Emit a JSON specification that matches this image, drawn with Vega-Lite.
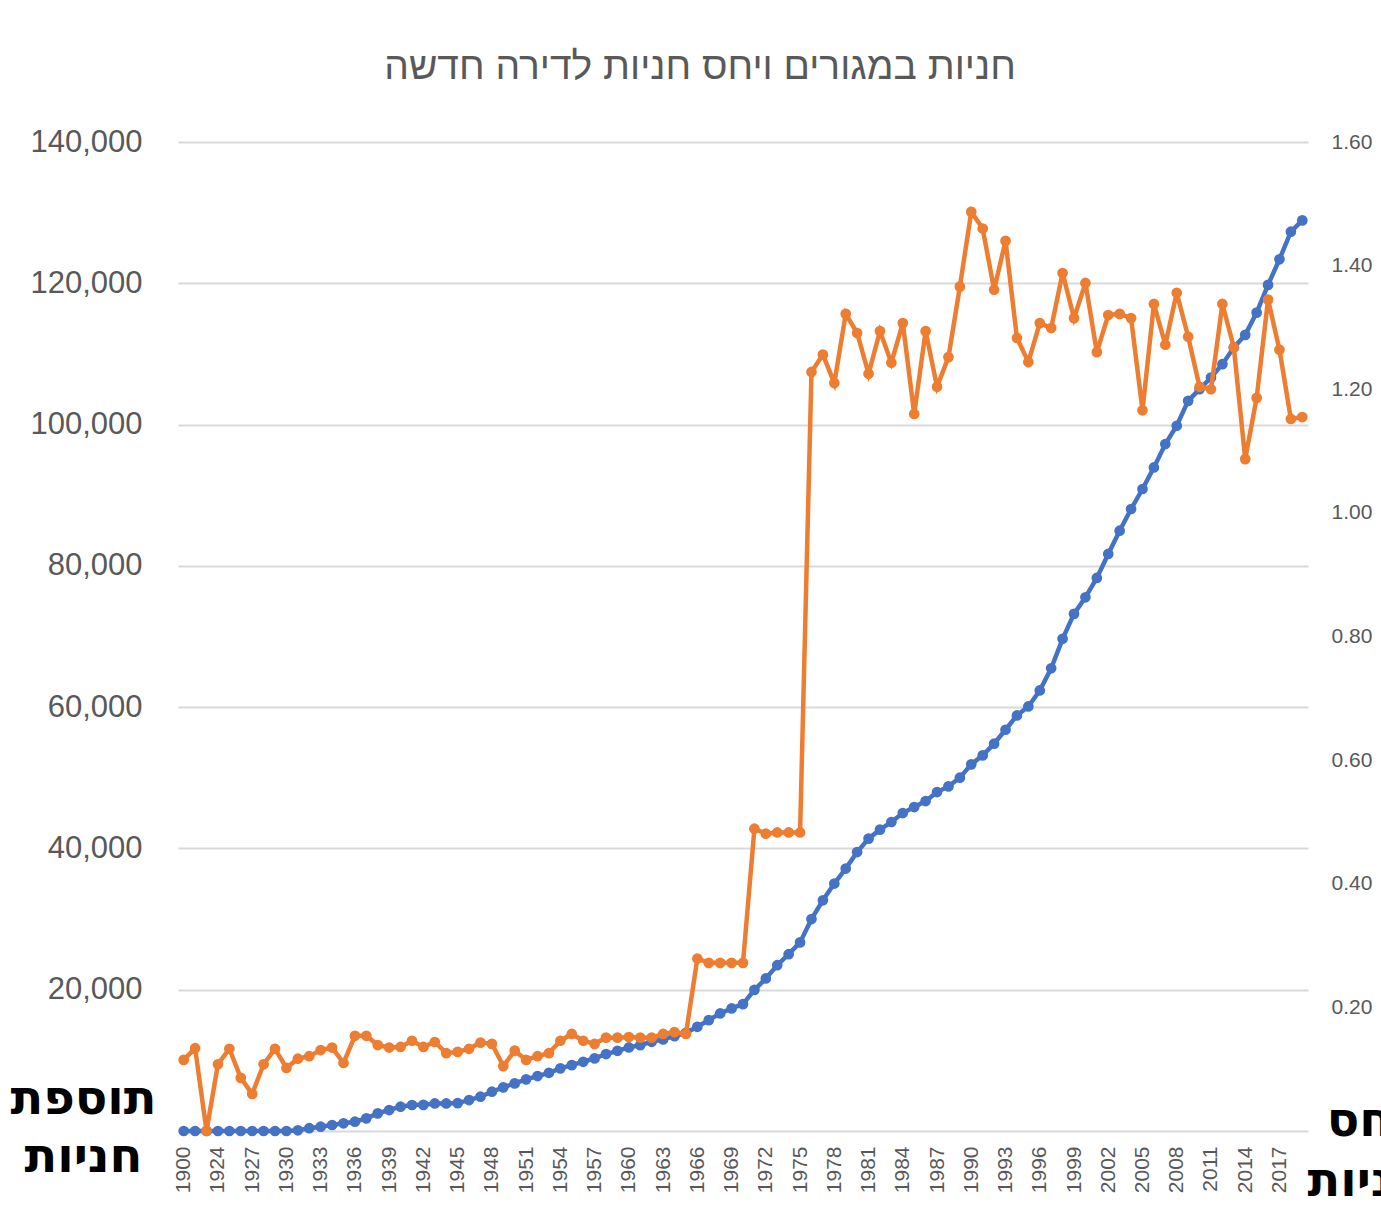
{
  "$schema": "https://vega.github.io/schema/vega-lite/v6.json",
  "width": 1130,
  "height": 989,
  "autosize": {"type": "none"},
  "padding": {"left": 178, "top": 142, "right": 73, "bottom": 92},
  "background": "white",
  "config": {"view": {"stroke": null}},
  "title": {
    "text": "חניות במגורים ויחס חניות לדירה חדשה",
    "font": "Liberation Sans",
    "fontSize": 39,
    "fontWeight": "normal",
    "color": "#595959",
    "anchor": "middle",
    "dx": -43,
    "offset": 39
  },
  "data": {
    "values": [
      {"year": 1900, "spaces": 0, "ratio": 0.115},
      {"year": 1922, "spaces": 0, "ratio": 0.134},
      {"year": 1923, "spaces": 0, "ratio": 0.0},
      {"year": 1924, "spaces": 0, "ratio": 0.108},
      {"year": 1925, "spaces": 0, "ratio": 0.133},
      {"year": 1926, "spaces": 0, "ratio": 0.086},
      {"year": 1927, "spaces": 0, "ratio": 0.060},
      {"year": 1928, "spaces": 0, "ratio": 0.108},
      {"year": 1929, "spaces": 0, "ratio": 0.133},
      {"year": 1930, "spaces": 0, "ratio": 0.102},
      {"year": 1931, "spaces": 100, "ratio": 0.117},
      {"year": 1932, "spaces": 400, "ratio": 0.121},
      {"year": 1933, "spaces": 610, "ratio": 0.131},
      {"year": 1934, "spaces": 850, "ratio": 0.135},
      {"year": 1935, "spaces": 1090, "ratio": 0.110},
      {"year": 1936, "spaces": 1320, "ratio": 0.154},
      {"year": 1937, "spaces": 1790, "ratio": 0.154},
      {"year": 1938, "spaces": 2500, "ratio": 0.139},
      {"year": 1939, "spaces": 2970, "ratio": 0.135},
      {"year": 1940, "spaces": 3440, "ratio": 0.136},
      {"year": 1941, "spaces": 3680, "ratio": 0.146},
      {"year": 1942, "spaces": 3700, "ratio": 0.136},
      {"year": 1943, "spaces": 3900, "ratio": 0.144},
      {"year": 1944, "spaces": 3900, "ratio": 0.126},
      {"year": 1945, "spaces": 3950, "ratio": 0.128},
      {"year": 1946, "spaces": 4380, "ratio": 0.133},
      {"year": 1947, "spaces": 4850, "ratio": 0.143},
      {"year": 1948, "spaces": 5560, "ratio": 0.141},
      {"year": 1949, "spaces": 6180, "ratio": 0.105},
      {"year": 1950, "spaces": 6740, "ratio": 0.130},
      {"year": 1951, "spaces": 7310, "ratio": 0.115},
      {"year": 1952, "spaces": 7780, "ratio": 0.121},
      {"year": 1953, "spaces": 8240, "ratio": 0.126},
      {"year": 1954, "spaces": 8870, "ratio": 0.146},
      {"year": 1955, "spaces": 9330, "ratio": 0.157},
      {"year": 1956, "spaces": 9800, "ratio": 0.146},
      {"year": 1957, "spaces": 10280, "ratio": 0.141},
      {"year": 1958, "spaces": 10890, "ratio": 0.151},
      {"year": 1959, "spaces": 11350, "ratio": 0.151},
      {"year": 1960, "spaces": 11830, "ratio": 0.152},
      {"year": 1961, "spaces": 12160, "ratio": 0.151},
      {"year": 1962, "spaces": 12630, "ratio": 0.151},
      {"year": 1963, "spaces": 12970, "ratio": 0.157},
      {"year": 1964, "spaces": 13430, "ratio": 0.160},
      {"year": 1965, "spaces": 13900, "ratio": 0.157},
      {"year": 1966, "spaces": 14750, "ratio": 0.279},
      {"year": 1967, "spaces": 15700, "ratio": 0.272},
      {"year": 1968, "spaces": 16640, "ratio": 0.272},
      {"year": 1969, "spaces": 17350, "ratio": 0.272},
      {"year": 1970, "spaces": 17960, "ratio": 0.272},
      {"year": 1971, "spaces": 19980, "ratio": 0.489},
      {"year": 1972, "spaces": 21590, "ratio": 0.481},
      {"year": 1973, "spaces": 23470, "ratio": 0.483},
      {"year": 1974, "spaces": 25030, "ratio": 0.483},
      {"year": 1975, "spaces": 26700, "ratio": 0.483},
      {"year": 1976, "spaces": 30000, "ratio": 1.228},
      {"year": 1977, "spaces": 32660, "ratio": 1.256},
      {"year": 1978, "spaces": 35030, "ratio": 1.210},
      {"year": 1979, "spaces": 37150, "ratio": 1.322},
      {"year": 1980, "spaces": 39490, "ratio": 1.291},
      {"year": 1981, "spaces": 41390, "ratio": 1.225},
      {"year": 1982, "spaces": 42660, "ratio": 1.294},
      {"year": 1983, "spaces": 43740, "ratio": 1.243},
      {"year": 1984, "spaces": 45010, "ratio": 1.307},
      {"year": 1985, "spaces": 45860, "ratio": 1.160},
      {"year": 1986, "spaces": 46710, "ratio": 1.294},
      {"year": 1987, "spaces": 47980, "ratio": 1.204},
      {"year": 1988, "spaces": 48780, "ratio": 1.252},
      {"year": 1989, "spaces": 50010, "ratio": 1.366},
      {"year": 1990, "spaces": 51900, "ratio": 1.487},
      {"year": 1991, "spaces": 53170, "ratio": 1.460},
      {"year": 1992, "spaces": 54820, "ratio": 1.361},
      {"year": 1993, "spaces": 56800, "ratio": 1.440},
      {"year": 1994, "spaces": 58820, "ratio": 1.283},
      {"year": 1995, "spaces": 60100, "ratio": 1.244},
      {"year": 1996, "spaces": 62360, "ratio": 1.307},
      {"year": 1997, "spaces": 65500, "ratio": 1.299},
      {"year": 1998, "spaces": 69670, "ratio": 1.388},
      {"year": 1999, "spaces": 73200, "ratio": 1.315},
      {"year": 2000, "spaces": 75550, "ratio": 1.372},
      {"year": 2001, "spaces": 78290, "ratio": 1.260},
      {"year": 2002, "spaces": 81690, "ratio": 1.320},
      {"year": 2003, "spaces": 84980, "ratio": 1.322},
      {"year": 2004, "spaces": 88050, "ratio": 1.315},
      {"year": 2005, "spaces": 90880, "ratio": 1.166},
      {"year": 2006, "spaces": 93930, "ratio": 1.338},
      {"year": 2007, "spaces": 97240, "ratio": 1.272},
      {"year": 2008, "spaces": 99830, "ratio": 1.356},
      {"year": 2009, "spaces": 103360, "ratio": 1.285},
      {"year": 2010, "spaces": 105020, "ratio": 1.204},
      {"year": 2011, "spaces": 106660, "ratio": 1.200},
      {"year": 2012, "spaces": 108550, "ratio": 1.338},
      {"year": 2013, "spaces": 110900, "ratio": 1.268},
      {"year": 2014, "spaces": 112700, "ratio": 1.087},
      {"year": 2015, "spaces": 115850, "ratio": 1.186},
      {"year": 2016, "spaces": 119770, "ratio": 1.345},
      {"year": 2017, "spaces": 123400, "ratio": 1.264},
      {"year": 2018, "spaces": 127300, "ratio": 1.152},
      {"year": 2019, "spaces": 128900, "ratio": 1.155}
    ]
  },
  "encoding": {
    "x": {
      "field": "year",
      "type": "ordinal",
      "scale": {"type": "point", "padding": 0.5},
      "axis": {
        "title": null,
        "values": [1900, 1924, 1927, 1930, 1933, 1936, 1939, 1942, 1945, 1948, 1951, 1954, 1957, 1960, 1963, 1966, 1969, 1972, 1975, 1978, 1981, 1984, 1987, 1990, 1993, 1996, 1999, 2002, 2005, 2008, 2011, 2014, 2017],
        "labelAngle": -90,
        "labelFont": "Liberation Sans",
        "labelFontSize": 21,
        "labelColor": "#595959",
        "labelPadding": 15,
        "ticks": false,
        "domain": true,
        "domainColor": "#d9d9d9",
        "domainWidth": 2,
        "grid": false
      }
    }
  },
  "layer": [
    {
      "mark": {"type": "line", "color": "#4472C4", "strokeWidth": 4.5, "point": {"filled": true, "size": 115, "color": "#4472C4"}},
      "encoding": {
        "y": {
          "field": "spaces",
          "type": "quantitative",
          "scale": {"domain": [0, 140000], "nice": false},
          "axis": {
            "orient": "left",
            "values": [20000, 40000, 60000, 80000, 100000, 120000, 140000],
            "format": ",.0f",
            "labelFont": "Liberation Sans",
            "labelFontSize": 31,
            "labelColor": "#595959",
            "labelPadding": 36,
            "ticks": false,
            "domain": false,
            "grid": true,
            "gridColor": "#d9d9d9",
            "gridWidth": 2,
            "title": ["תוספת", "חניות"],
            "titleAngle": 0,
            "titleFont": "DejaVu Sans",
            "titleFontSize": 48,
            "titleFontWeight": "bold",
            "titleColor": "#000000",
            "titleAlign": "center",
            "titleBaseline": "top",
            "titleLineHeight": 58,
            "titleX": -95,
            "titleY": 933
          }
        }
      }
    },
    {
      "mark": {"type": "line", "color": "#ED7D31", "strokeWidth": 4.5, "point": {"filled": true, "size": 115, "color": "#ED7D31"}},
      "encoding": {
        "y": {
          "field": "ratio",
          "type": "quantitative",
          "scale": {"domain": [0, 1.6], "nice": false},
          "axis": {
            "orient": "right",
            "values": [0.2, 0.4, 0.6, 0.8, 1.0, 1.2, 1.4, 1.6],
            "format": ".2f",
            "labelFont": "Liberation Sans",
            "labelFontSize": 21,
            "labelColor": "#595959",
            "labelPadding": 23,
            "ticks": false,
            "domain": false,
            "grid": false,
            "title": ["יחס", "חניות", "לדירה"],
            "titleAngle": 0,
            "titleFont": "DejaVu Sans",
            "titleFontSize": 48,
            "titleFontWeight": "bold",
            "titleColor": "#000000",
            "titleAlign": "center",
            "titleBaseline": "top",
            "titleLineHeight": 60,
            "titleX": 58,
            "titleY": 955
          }
        }
      }
    }
  ],
  "resolve": {"scale": {"y": "independent"}}
}
